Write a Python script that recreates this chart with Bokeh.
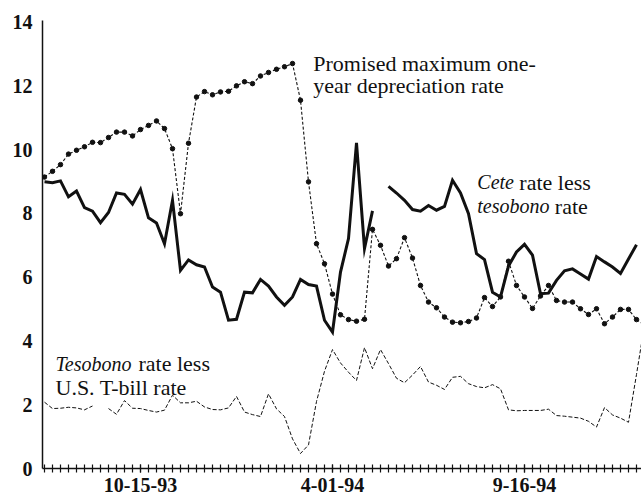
import math
from bokeh.plotting import figure
from bokeh.models import Range1d, FixedTicker, Label, ColumnDataSource
from bokeh.embed import file_html
from bokeh.resources import INLINE

NaN = float("nan")

# weekly observations (index 0 = 7-23-93)
week = list(range(76))

x_tick_pos = [12, 36, 60]
x_tick_labels = ["10-15-93", "4-01-94", "9-16-94"]
y_ticks = [0, 2, 4, 6, 8, 10, 12, 14]

promised_depr = [9.14, 9.32, 9.53, 9.86, 9.98, 10.09, 10.23, 10.22, 10.38, 10.55,
                 10.55, 10.43, 10.63, 10.76, 10.90, 10.66, 10.03, 7.99, 10.20, 11.65,
                 11.82, 11.72, 11.81, 11.83, 12.00, 12.13, 12.07, 12.31, 12.42, 12.52,
                 12.60, 12.70, 11.55, 8.99, 7.05, 6.42, 5.47, 4.82, 4.67, 4.62,
                 4.68, 7.50, 7.00, 6.35, 6.58, 7.24, 6.60, 5.74, 5.22, 5.04,
                 4.75, 4.59, 4.57, 4.61, 4.72, 5.36, 5.08, 5.38, 6.50, 5.74,
                 5.38, 5.02, 5.41, 5.74, 5.27, 5.22, 5.22, 5.01, 4.83, 5.01,
                 4.54, 4.75, 4.99, 4.99, 4.67, 4.50]

cete_less_tesobono = [8.99, 8.96, 9.02, 8.52, 8.70, 8.18, 8.07, 7.71, 8.03, 8.64,
                      8.60, 8.29, 8.75, 7.86, 7.70, 7.05, 8.41, 6.21, 6.54, 6.39,
                      6.32, 5.69, 5.53, 4.65, 4.68, 5.53, 5.51, 5.93, 5.72, 5.38,
                      5.12, 5.38, 5.93, 5.77, 5.72, 4.65, 4.28, 6.16, 7.21, 10.21,
                      6.90, 8.08, NaN, 8.85, 8.64, 8.41, 8.12, 8.07, 8.25, 8.10,
                      8.22, 9.04, 8.64, 7.99, 6.74, 6.55, 5.53, 5.38, 6.35, 6.79,
                      7.03, 6.69, 5.48, 5.50, 5.90, 6.20, 6.26, 6.10, 5.94, 6.65,
                      6.48, 6.32, 6.12, 6.57, 7.02, NaN]

tesobono_less_tbill = [2.08, 1.88, 1.89, 1.92, 1.90, 1.84, 1.96, NaN, 1.88, 1.70,
                       2.13, 1.89, 1.88, 1.82, 1.77, 1.83, 2.30, 2.06, 2.06, 2.11,
                       1.93, 1.85, 1.84, 1.90, 2.26, 1.77, 1.69, 1.63, 2.34, 1.87,
                       1.63, 0.93, 0.47, 0.74, 2.10, 3.05, 3.73, 3.31, 3.02, 2.76,
                       3.79, 3.13, 3.73, 3.29, 2.83, 2.69, 2.93, 3.20, 2.71, 2.61,
                       2.48, 2.86, 2.89, 2.66, 2.57, 2.53, 2.63, 2.50, 1.84, 1.81,
                       1.82, 1.82, 1.82, 1.86, 1.66, 1.64, 1.61, 1.58, 1.48, 1.30,
                       1.91, 1.68, 1.58, 1.45, 2.95, 4.50]

src = ColumnDataSource(dict(week=week, promised=promised_depr,
                            cete=cete_less_tesobono, teso=tesobono_less_tbill))

INK = "#111111"
SERIF = "Liberation Serif"

p = figure(width=641, height=502, output_backend="svg", toolbar_location=None,
           x_range=Range1d(-0.25, 74.625), y_range=Range1d(0, 14.05),
           min_border_left=42, min_border_right=0, min_border_top=20,
           min_border_bottom=34)
p.outline_line_color = None
p.xgrid.visible = False
p.ygrid.visible = False
p.background_fill_color = "white"
p.border_fill_color = "white"

# series
p.line("week", "promised", source=src, line_color=INK, line_width=1.1, line_dash="3 2")
p.scatter("week", "promised", source=src, marker="circle", size=4.5,
          fill_color=INK, line_color=INK)
p.line("week", "cete", source=src, line_color=INK, line_width=3.0, line_join="miter")
p.line("week", "teso", source=src, line_color=INK, line_width=1.0, line_dash="4 2")

# axes
xa = p.xaxis[0]
xa.ticker = FixedTicker(ticks=x_tick_pos, minor_ticks=week)
xa.major_label_overrides = {k: v for k, v in zip(x_tick_pos, x_tick_labels)}
xa.axis_line_color = INK
xa.axis_line_width = 1.5
xa.major_tick_in = 4
xa.major_tick_out = 4
xa.minor_tick_in = 4
xa.minor_tick_out = 4
xa.major_tick_line_color = INK
xa.minor_tick_line_color = INK
xa.major_tick_line_width = 1.2
xa.minor_tick_line_width = 1.2
xa.major_label_standoff = 5
xa.major_label_text_font = SERIF
xa.major_label_text_font_style = "bold"
xa.major_label_text_font_size = "20px"
xa.major_label_text_color = INK

ya = p.yaxis[0]
ya.ticker = FixedTicker(ticks=y_ticks)
ya.axis_line_color = INK
ya.axis_line_width = 1.5
ya.major_tick_in = 0
ya.major_tick_out = 0
ya.minor_tick_in = 0
ya.minor_tick_out = 0
ya.major_label_standoff = 10
ya.major_label_text_font = SERIF
ya.major_label_text_font_style = "bold"
ya.major_label_text_font_size = "20px"
ya.major_label_text_color = INK


def lab(x, y, text, style="normal", dx=0, size="22px"):
    p.add_layout(Label(x=x, y=y, x_offset=dx, text=text, text_font=SERIF,
                       text_font_size=size, text_font_style=style, text_color=INK,
                       text_baseline="alphabetic", text_align="left"))


# annotations
lab(33.6, 12.70, "Promised maximum one-")
lab(33.6, 12.01, "year depreciation rate")

lab(54.1, 8.98, "Cete", "italic", size="20px")
lab(54.1, 8.98, "rate less", dx=42)
lab(54.1, 8.22, "tesobono", "italic", size="20px")
lab(54.1, 8.22, "rate", dx=77.5)

lab(1.375, 3.29, "Tesobono", "italic", size="20px")
lab(1.375, 3.29, "rate less", dx=83)
lab(1.375, 2.54, "U.S. T-bill rate")

open("out.html", "w").write(file_html(p, INLINE))
